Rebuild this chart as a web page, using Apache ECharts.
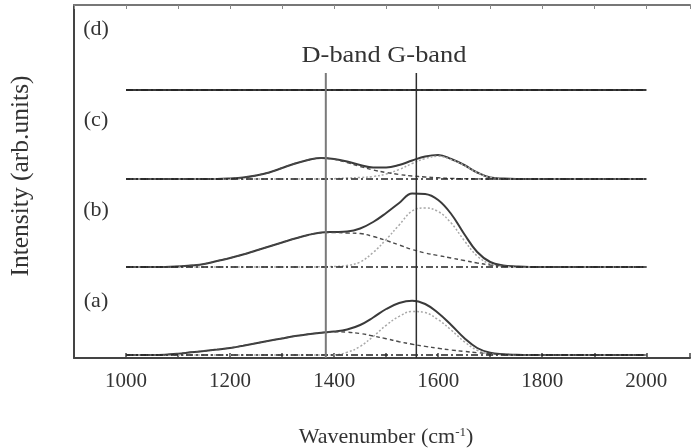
<!DOCTYPE html>
<html>
<head>
<meta charset="utf-8">
<title>Raman spectra</title>
<script src="https://cdn.jsdelivr.net/npm/echarts@6/dist/echarts.min.js"></script>
<style>
  html, body { margin: 0; padding: 0; background: #fff; }
  #chart { width: 693px; height: 448px; }
</style>
</head>
<body>
<div id="chart"></div>
<script>
// Wavenumber grid (cm^-1) shared by every curve
var wavenumbers = [1000,1025,1050,1075,1100,1125,1150,1175,1200,1225,1250,1275,1300,1325,1350,1375,1400,1425,1450,1475,1500,1525,1550,1575,1600,1625,1650,1675,1700,1725,1750,1775,1800,1825,1850,1875,1900,1925,1950,1975,2000];

// Spectrum (a): measured curve and its D / G band fits
var aTotal = [0,0,0,0.3,1.3,2.7,4,5.4,7,9.3,11.8,14.2,16.6,18.9,20.8,22.3,23.4,25.5,30,37.5,46,52,54.3,51,42,30,17,7,2.2,0.7,0.2,0,0,0,0,0,0,0,0,0,0];
var aD     = [0,0,0,0.3,1.3,2.7,4,5.4,7,9.3,11.8,14.2,16.6,18.9,20.8,22.3,23.2,22.8,21.5,19,16.3,13.3,10.8,8.6,6.7,5,3.6,2.3,1.3,0.6,0.2,0,0,0,0,0,0,0,0,0,0];
var aG     = [0,0,0,0,0,0,0,0,0,0,0,0,0,0,0,0,0.2,2.7,8.5,18.5,29.7,38.7,43.5,42.4,35.3,25,13.4,4.7,0.9,0.1,0,0,0,0,0,0,0,0,0,0,0];

// Spectrum (b)
var bTotal = [0,0,0,0,0.5,1.5,3,6,9,12.5,16.5,20.5,24.5,28.5,32,34.5,35,35.5,38.5,45,54,64,73.5,73,67,53,33,15,5,1.5,0.5,0,0,0,0,0,0,0,0,0,0];
var bD     = [0,0,0,0,0.5,1.5,3,6,9,12.5,16.5,20.5,24.5,28.5,32,34.3,34.5,34,33.5,30.5,26.5,22,17.5,14,11.5,9,6.5,4,2,1,0.4,0.1,0,0,0,0,0,0,0,0,0];
var bG     = [0,0,0,0,0,0,0,0,0,0,0,0,0,0,0,0.2,0.5,1.5,5,14.5,27.5,42,56,59,55.5,44,26.5,11,3,0.5,0.1,0,0,0,0,0,0,0,0,0,0];

// Spectrum (c)
var cTotal = [0,0,0,0,0,0,0,0,0.5,1.5,3.5,6.5,11,15.5,19,21,20,17.5,14,11.5,11.5,14,18.5,22.5,24,20,14,6.5,1.5,0.4,0,0,0,0,0,0,0,0,0,0,0];
var cD     = [0,0,0,0,0,0,0,0,0.5,1.5,3.5,6.5,11,15.5,19,21,19.7,16.5,12.5,9,6.5,4.5,3,2,1.2,0.6,0.3,0.1,0,0,0,0,0,0,0,0,0,0,0,0,0];
var cG     = [0,0,0,0,0,0,0,0,0,0,0,0,0,0,0,0,0.3,1,1.5,2.5,5,9.5,15.5,20.5,22.8,19.4,13.7,6.4,1.5,0.4,0,0,0,0,0,0,0,0,0,0,0];

// Spectrum (d): featureless
var dTotal = [0,0,0,0,0,0,0,0,0,0,0,0,0,0,0,0,0,0,0,0,0,0,0,0,0,0,0,0,0,0,0,0,0,0,0,0,0,0,0,0,0];

// Vertical stacking offsets for (a), (b), (c), (d)
var offsets = [3, 91, 179, 268];
var panelLabels = ['(a)', '(b)', '(c)', '(d)'];

// Band marker positions (cm^-1) and the height they reach
var bandPositions = [1384, 1558];
var bandLineTop = 285;

// Baseline extent
var baselineRange = [1000, 2000];

var SERIF = '"Liberation Serif", "Times New Roman", serif';

function shifted(values, off) {
  return wavenumbers.map(function (w, i) { return [w, values[i] + off]; });
}

function curve(values, off, style, z) {
  return {
    type: 'line', data: shifted(values, off), smooth: 0.4,
    symbol: 'none', silent: true, z: z, lineStyle: style
  };
}

var totalStyle = { color: '#3a3a3a', width: 2 };
var dStyle = { color: '#4a4a4a', width: 1.4, type: [4, 3] };
var gStyle = { color: '#a8a8a8', width: 1.5, type: [2, 2] };
var baseStyle = { color: '#222', width: 1.3, type: [7, 3, 2, 3] };

var series = [];
var groups = [[aTotal, aD, aG], [bTotal, bD, bG], [cTotal, cD, cG], [dTotal, null, null]];
groups.forEach(function (g, k) {
  var off = offsets[k];
  series.push(curve(g[0], off, totalStyle, 2));
  if (g[2]) series.push(curve(g[2], off, gStyle, 3));
  if (g[1]) series.push(curve(g[1], off, dStyle, 4));
  series.push({
    type: 'line', silent: true, symbol: 'none', z: 5, lineStyle: baseStyle,
    data: [[baselineRange[0], off], [baselineRange[1], off]]
  });
});

// D-band and G-band marker lines
var bandColors = ['#7a7a7a', '#2e2e2e'];
var bandWidths = [2, 1.5];
bandPositions.forEach(function (p, i) {
  series.push({
    type: 'line', silent: true, symbol: 'none', z: 6,
    lineStyle: { color: bandColors[i], width: bandWidths[i] },
    data: [[p, 0], [p, bandLineTop]]
  });
});

var graphics = [
  {
    type: 'text', position: [384, 56], scaleX: 1.1,
    style: { text: 'D-band G-band', font: '24px ' + SERIF, fill: '#333',
             textAlign: 'center', textVerticalAlign: 'middle' }
  },
  {
    type: 'text', position: [21, 176], rotation: Math.PI / 2,
    style: { text: 'Intensity (arb.units)', font: '25.5px ' + SERIF, fill: '#333',
             textAlign: 'center', textVerticalAlign: 'middle' }
  },
  {
    type: 'text', position: [386, 437],
    style: {
      text: 'Wavenumber (cm{sup|-1})', font: '22px ' + SERIF, fill: '#333',
      textAlign: 'center', textVerticalAlign: 'middle',
      rich: { sup: { fontSize: 13, fontFamily: SERIF, verticalAlign: 'top', lineHeight: 13, fill: '#333' } }
    }
  }
];
var labelY = [301, 210, 120, 29];
panelLabels.forEach(function (t, i) {
  graphics.push({
    type: 'text', position: [96, labelY[i]],
    style: { text: t, font: '22px ' + SERIF, fill: '#333',
             textAlign: 'center', textVerticalAlign: 'middle' }
  });
});

var chart = echarts.init(document.getElementById('chart'), null, { renderer: 'canvas' });
chart.setOption({
  animation: false,
  backgroundColor: '#fff',
  grid: { left: 74, right: 0, top: 5, bottom: 90 },
  xAxis: [
    {
      type: 'value', min: 900, max: 2084, interval: 100, position: 'bottom',
      axisLine: { show: true, lineStyle: { color: '#444', width: 2 } },
      axisTick: { show: true, inside: true, length: 5, lineStyle: { color: '#444', width: 1.5 } },
      axisLabel: {
        margin: 13, fontSize: 21, fontFamily: SERIF, color: '#333',
        formatter: function (v) { return (v < 1000 || v > 2000 || v % 200 !== 0) ? '' : String(v); }
      },
      splitLine: { show: false }
    },
    {
      type: 'value', min: 900, max: 2084, interval: 100, position: 'top',
      axisLine: { show: true, lineStyle: { color: '#777', width: 2 } },
      axisTick: { show: true, inside: true, length: 4, lineStyle: { color: '#888', width: 1 } },
      axisLabel: { show: false },
      splitLine: { show: false }
    }
  ],
  yAxis: {
    type: 'value', min: 0, max: 353,
    axisLine: { show: true, lineStyle: { color: '#444', width: 2 } },
    axisTick: { show: false }, axisLabel: { show: false }, splitLine: { show: false }
  },
  graphic: graphics,
  series: series
});
</script>
</body>
</html>
